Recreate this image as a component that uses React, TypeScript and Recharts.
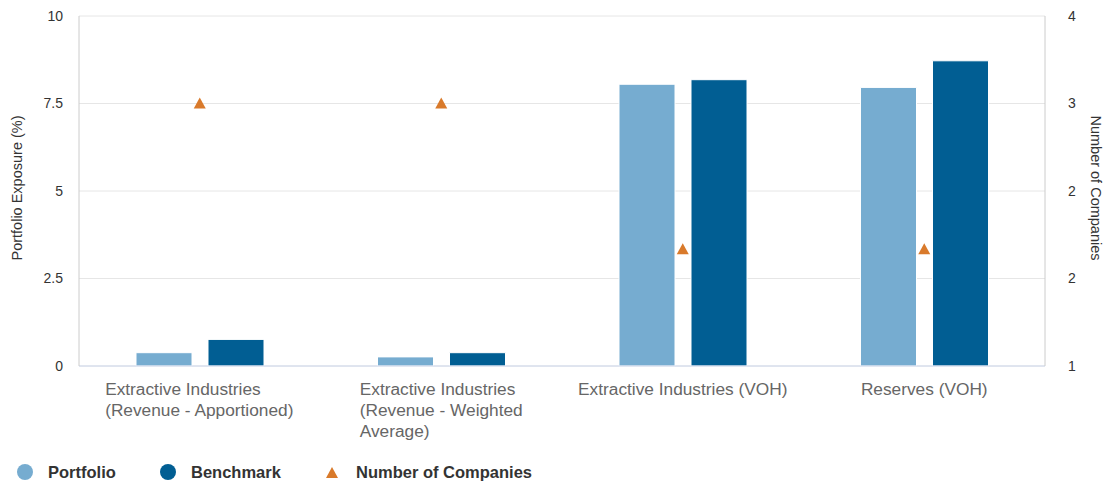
import React from 'react';
import {
  ComposedChart,
  Bar,
  Scatter,
  XAxis,
  YAxis,
  CartesianGrid,
  Legend,
} from 'recharts';

const categories = [
  'Extractive Industries (Revenue - Apportioned)',
  'Extractive Industries (Revenue - Weighted Average)',
  'Extractive Industries (VOH)',
  'Reserves (VOH)',
];
const categoryLines = [
  ['Extractive Industries', '(Revenue - Apportioned)'],
  ['Extractive Industries', '(Revenue - Weighted', 'Average)'],
  ['Extractive Industries (VOH)'],
  ['Reserves (VOH)'],
];
const portfolio = [0.38, 0.26, 8.05, 7.96];
const benchmark = [0.76, 0.38, 8.18, 8.72];
const companies = [3.25, 3.25, 2, 2];

const leftTicks = [0, 2.5, 5, 7.5, 10];
const leftTickLabels = ['0', '2.5', '5', '7.5', '10'];
const rightTicks = [1, 1.75, 2.5, 3.25, 4];
const rightTickLabels = ['1', '2', '2', '3', '4'];

const COLORS = {
  portfolio: '#76acd0',
  benchmark: '#015e93',
  companies: '#d97a2b',
};

const FONT = "'Liberation Sans', Arial, Helvetica, sans-serif";

const data = categories.map((c, i) => ({
  name: c,
  portfolio: portfolio[i],
  benchmark: benchmark[i],
  companies: companies[i],
}));

let measureCtx: CanvasRenderingContext2D | null = null;
function textWidth(t: string, font: string): number {
  if (!measureCtx) {
    const c = document.createElement('canvas');
    measureCtx = c.getContext('2d');
  }
  if (!measureCtx) return t.length * 8;
  measureCtx.font = font;
  return measureCtx.measureText(t).width;
}

const CategoryTick = (props: any) => {
  const { x, y, payload } = props;
  const idx = categories.indexOf(payload.value);
  const lines = idx >= 0 ? categoryLines[idx] : [String(payload.value)];
  const font = `17.3px ${FONT}`;
  const w = Math.max(...lines.map((l) => textWidth(l, font)));
  const left = x - w / 2;
  return (
    <g>
      {lines.map((l, i) => (
        <text
          key={i}
          x={left}
          y={y + 21 + i * 21}
          textAnchor="start"
          fontSize={17.3}
          fontFamily={FONT}
          fill="#666666"
        >
          {l}
        </text>
      ))}
    </g>
  );
};

const Triangle = (props: any) => {
  const { cx, cy } = props;
  if (cx == null || cy == null) return null;
  return (
    <path
      d={`M${cx},${cy - 6} L${cx + 6},${cy + 5} L${cx - 6},${cy + 5} Z`}
      fill={COLORS.companies}
    />
  );
};

const LegendContent = () => (
  <svg width={1103} height={30} style={{ display: 'block' }}>
    <circle cx={25} cy={21} r={8} fill={COLORS.portfolio} />
    <text x={48} y={27} fontSize={16.5} fontWeight={700} fontFamily={FONT} fill="#333333">
      Portfolio
    </text>
    <circle cx={168} cy={21} r={8} fill={COLORS.benchmark} />
    <text x={191} y={27} fontSize={16.5} fontWeight={700} fontFamily={FONT} fill="#333333">
      Benchmark
    </text>
    <path d="M332,16 L338,27 L326,27 Z" fill={COLORS.companies} />
    <text x={356} y={27} fontSize={16.5} fontWeight={700} fontFamily={FONT} fill="#333333">
      Number of Companies
    </text>
  </svg>
);

export default function App() {
  return (
    <div style={{ position: 'absolute', left: 0, top: 0, width: 1103, height: 481, background: '#ffffff' }}>
      <ComposedChart
        width={1103}
        height={481}
        data={data}
        margin={{ top: 16, right: 0, bottom: 0, left: 0 }}
        barSize={56}
        barGap={16}
      >
        <CartesianGrid vertical={false} stroke="#e6e6e6" strokeWidth={1} yAxisId="left" />
        <XAxis
          dataKey="name"
          height={85}
          tick={<CategoryTick />}
          tickLine={false}
          axisLine={{ stroke: '#ccd6eb' }}
          interval={0}
        />
        <YAxis
          yAxisId="left"
          orientation="left"
          width={79}
          domain={[0, 10]}
          ticks={leftTicks}
          tickFormatter={(v: number) => leftTickLabels[leftTicks.indexOf(v)] ?? String(v)}
          tickLine={false}
          tickSize={0}
          tickMargin={16}
          axisLine={{ stroke: '#cccccc' }}
          tick={{ fontSize: 14, fill: '#333333', fontFamily: FONT }}
          label={{
            content: () => (
              <text
                x={17}
                y={188}
                transform="rotate(-90, 17, 188)"
                textAnchor="middle"
                dominantBaseline="central"
                fontSize={14.5}
                fontFamily={FONT}
                fill="#333333"
              >
                Portfolio Exposure (%)
              </text>
            ),
          }}
        />
        <YAxis
          yAxisId="right"
          orientation="right"
          width={58}
          domain={[1, 4]}
          ticks={rightTicks}
          tickFormatter={(v: number) => rightTickLabels[rightTicks.indexOf(v)] ?? String(v)}
          tickLine={false}
          tickSize={0}
          tickMargin={23}
          axisLine={{ stroke: '#cccccc' }}
          tick={{ fontSize: 14, fill: '#333333', fontFamily: FONT }}
          label={{
            content: () => (
              <text
                x={1096}
                y={188}
                transform="rotate(90, 1096, 188)"
                textAnchor="middle"
                dominantBaseline="central"
                fontSize={14.5}
                fontFamily={FONT}
                fill="#333333"
              >
                Number of Companies
              </text>
            ),
          }}
        />
        <Legend
          verticalAlign="bottom"
          align="left"
          height={30}
          wrapperStyle={{ left: 0, bottom: 0, width: 1103, height: 30 }}
          content={<LegendContent />}
        />
        <Bar
          yAxisId="left"
          dataKey="portfolio"
          name="Portfolio"
          fill={COLORS.portfolio}
          stroke="#ffffff"
          strokeWidth={1}
          isAnimationActive={false}
        />
        <Bar
          yAxisId="left"
          dataKey="benchmark"
          name="Benchmark"
          fill={COLORS.benchmark}
          stroke="#ffffff"
          strokeWidth={1}
          isAnimationActive={false}
        />
        <Scatter
          yAxisId="right"
          dataKey="companies"
          name="Number of Companies"
          fill={COLORS.companies}
          shape={<Triangle />}
          isAnimationActive={false}
        />
      </ComposedChart>
    </div>
  );
}
